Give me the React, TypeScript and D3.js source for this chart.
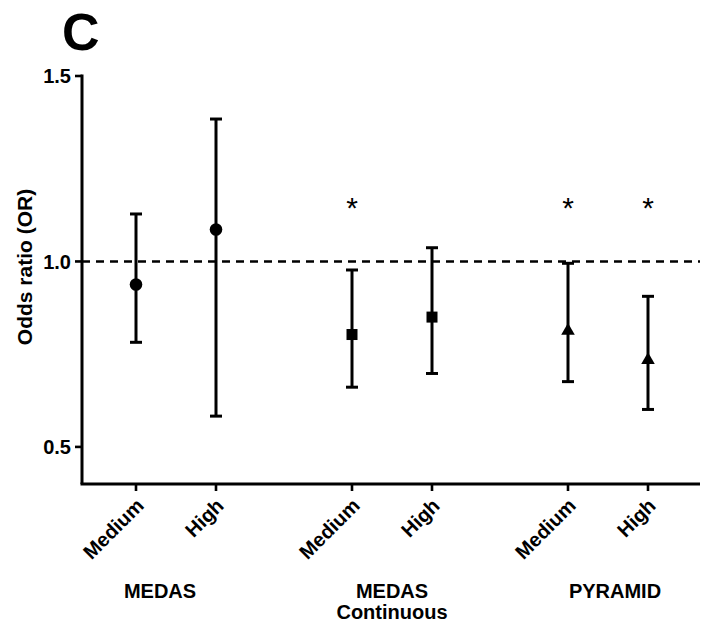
import React from "react";
import * as d3 from "d3";

const groups = ["MEDAS", "MEDAS\nContinuous", "PYRAMID"];
const levels = ["Medium", "High"];
const groupIndex = [0, 0, 1, 1, 2, 2];
const levelIndex = [0, 1, 0, 1, 0, 1];
const orValues = [0.938, 1.086, 0.803, 0.85, 0.813, 0.734];
const lowerCI = [0.782, 0.583, 0.661, 0.698, 0.676, 0.601];
const upperCI = [1.128, 1.384, 0.977, 1.037, 0.995, 0.906];
const significant = [false, false, true, false, true, true];
const markerShapes = ["circle", "circle", "square", "square", "triangle", "triangle"];
const yTicks = [0.5, 1.0, 1.5];
const refLine = 1.0;
const starLevel = 1.16;

const W = 702;
const H = 635;
const FONT = "Arial, 'Liberation Sans', Helvetica, sans-serif";
// layout: horizontal nudge of the group captions (px)
const GROUP_LABEL_NUDGE = [-16, 0, 7];

export default function App() {
  const left = 82;
  const right = 700;
  const top = 76;
  const bottom = 484;

  const y = d3.scaleLinear().domain([0.4, 1.5]).range([bottom, top]);
  const pos = (i: number) => groupIndex[i] * 2.7 + levelIndex[i];
  const x = d3.scaleLinear().domain([0, 1]).range([136, 216]);
  const capW = 12;

  const triangle = d3.symbol().type(d3.symbolTriangle).size(80)() as string;

  return (
    <svg width={W} height={H} style={{ position: "absolute", left: 0, top: 0, background: "#fff" }} fontFamily={FONT}>
      <rect x={0} y={0} width={W} height={H} fill="#fff" />
      <text x={62} y={50} fontSize={52} fontWeight="bold">C</text>

      {/* reference line */}
      <line x1={left} x2={right} y1={y(refLine)} y2={y(refLine)} stroke="#000" strokeWidth={2.6} strokeDasharray="8,6" />

      {/* y axis */}
      <line x1={left} x2={left} y1={y(1.5) - 1.5} y2={bottom} stroke="#000" strokeWidth={3} />
      {yTicks.map((t) => (
        <g key={t}>
          <line x1={left - 7} x2={left} y1={y(t)} y2={y(t)} stroke="#000" strokeWidth={2.6} />
          <text x={left - 11} y={y(t)} dy="0.36em" textAnchor="end" fontSize={20} fontWeight="bold">
            {t.toFixed(1)}
          </text>
        </g>
      ))}
      <text
        transform={`translate(32,${(y(1.5) + bottom) / 2 - 13}) rotate(-90)`}
        textAnchor="middle"
        fontSize={21}
        fontWeight="bold"
      >
        Odds ratio (OR)
      </text>

      {/* x axis */}
      <line x1={left - 1.5} x2={right} y1={bottom} y2={bottom} stroke="#000" strokeWidth={3} />
      {orValues.map((_, i) => {
        const cx = x(pos(i));
        return (
          <g key={"xt" + i}>
            <line x1={cx} x2={cx} y1={bottom} y2={bottom + 7} stroke="#000" strokeWidth={2.6} />
            <text
              transform={`translate(${cx + 9},${bottom + 23}) rotate(-45)`}
              textAnchor="end"
              fontSize={20}
              fontWeight="bold"
            >
              {levels[levelIndex[i]]}
            </text>
          </g>
        );
      })}
      {groups.map((g, gi) => {
        const idx = groupIndex.map((v, i) => (v === gi ? i : -1)).filter((i) => i >= 0);
        const cx = (d3.mean(idx, (i) => x(pos(i))) as number) + GROUP_LABEL_NUDGE[gi];
        return (
          <text key={g} x={cx} y={598} textAnchor="middle" fontSize={20} fontWeight="bold">
            {g.split("\n").map((line, li) => (
              <tspan key={li} x={cx} dy={li === 0 ? 0 : 21}>
                {line}
              </tspan>
            ))}
          </text>
        );
      })}

      {/* error bars and markers */}
      {orValues.map((v, i) => {
        const cx = x(pos(i));
        const cy = y(v);
        const shape = markerShapes[i];
        return (
          <g key={"eb" + i}>
            <line x1={cx} x2={cx} y1={y(lowerCI[i])} y2={y(upperCI[i])} stroke="#000" strokeWidth={3} />
            <line x1={cx - capW / 2} x2={cx + capW / 2} y1={y(lowerCI[i])} y2={y(lowerCI[i])} stroke="#000" strokeWidth={3} />
            <line x1={cx - capW / 2} x2={cx + capW / 2} y1={y(upperCI[i])} y2={y(upperCI[i])} stroke="#000" strokeWidth={3} />
            {shape === "circle" && <circle cx={cx} cy={cy} r={6.3} fill="#000" />}
            {shape === "square" && <rect x={cx - 5.5} y={cy - 5.5} width={11} height={11} fill="#000" />}
            {shape === "triangle" && <path d={triangle} transform={`translate(${cx},${cy})`} fill="#000" />}
            {significant[i] && (
              <text x={cx} y={y(starLevel) + 16} textAnchor="middle" fontSize={30} fontWeight="normal">
                *
              </text>
            )}
          </g>
        );
      })}
    </svg>
  );
}
